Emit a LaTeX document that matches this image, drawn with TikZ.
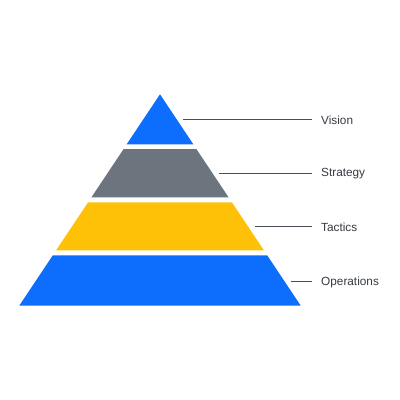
\documentclass[tikz,border=0pt]{standalone}
\usepackage{fontspec}
\setmainfont{Liberation Sans}
\definecolor{pblue}{HTML}{0D6EFD}
\definecolor{pgray}{HTML}{6C757D}
\definecolor{pyellow}{HTML}{FFC107}
\definecolor{lbl}{HTML}{343A40}
\definecolor{lead}{HTML}{495057}
\begin{document}
\begin{tikzpicture}[x=1pt,y=-1pt,
  leader/.style={draw=lead,line width=0.9pt},
  tag/.style={anchor=west,inner sep=0pt,text=lbl,font=\fontsize{11.8}{13}\selectfont}]
\useasboundingbox (0,0) rectangle (400,400);
% layers
\fill[pblue] (160,94.3) -- (193.3,144.3) -- (126.7,144.3) -- cycle;
\fill[pgray] (123.6,149) -- (196.4,149) -- (228.6,197.3) -- (91.4,197.3) -- cycle;
\fill[pyellow] (88.1,202.3) -- (231.9,202.3) -- (263.9,250.3) -- (56.1,250.3) -- cycle;
\fill[pblue] (52.8,255.3) -- (267.2,255.3) -- (300.8,305.7) -- (19.2,305.7) -- cycle;
% labels
\node[tag] (vision) at (321,120) {Vision};
\node[tag] (strategy) at (321,174) {Strategy};
\node[tag] (tactics) at (321,227) {Tactics};
\node[tag] (operations) at (321,282) {Operations};
\coordinate (s1) at (183,119);
\coordinate (s2) at (219,173.3);
\coordinate (s3) at (255,226);
\coordinate (s4) at (290.5,281);
\draw[leader] (s1) -- ([xshift=-9pt]vision.west |- s1);
\draw[leader] (s2) -- ([xshift=-9pt]strategy.west |- s2);
\draw[leader] (s3) -- ([xshift=-9pt]tactics.west |- s3);
\draw[leader] (s4) -- ([xshift=-9pt]operations.west |- s4);
\end{tikzpicture}
\end{document}
